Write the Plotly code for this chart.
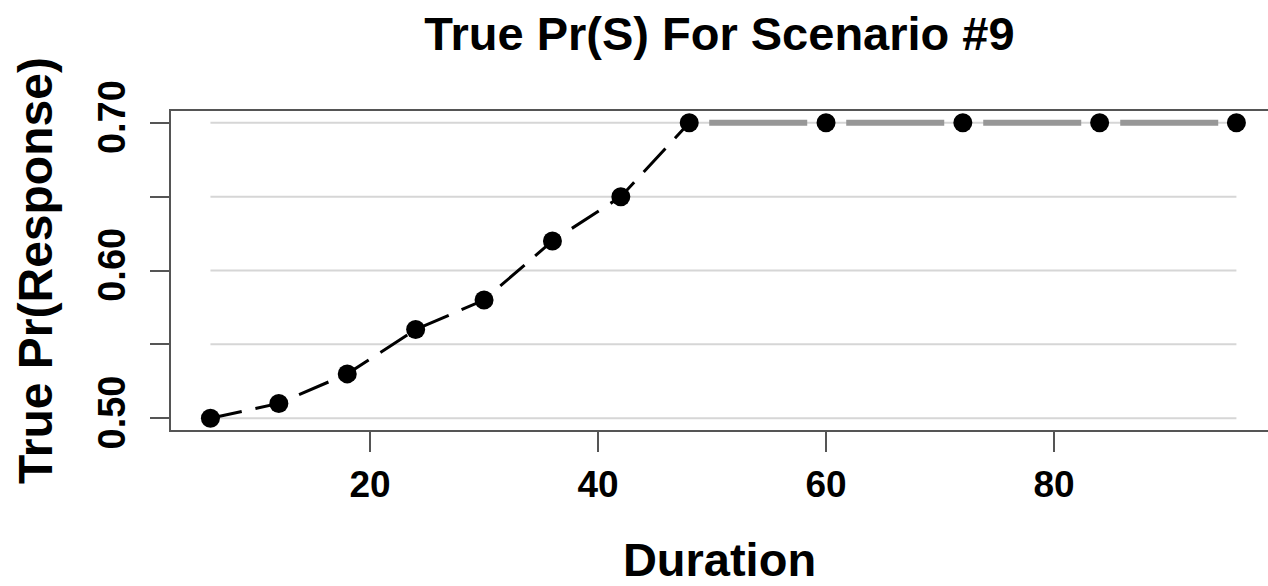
import plotly.graph_objects as go

duration = [6, 12, 18, 24, 30, 36, 42, 48, 60, 72, 84, 96]
pr_response = [0.50, 0.51, 0.53, 0.56, 0.58, 0.62, 0.65, 0.70, 0.70, 0.70, 0.70, 0.70]
plateau_start = 7  # index of 48
y_tickvals = [0.50, 0.55, 0.60, 0.65, 0.70]
y_ticktext = ["0.50", "", "0.60", "", "0.70"]
x_tickvals = [20, 40, 60, 80]

FONT = "Liberation Sans, Arial, Helvetica, sans-serif"

fig = go.Figure()

# rising part: black dashed
fig.add_trace(go.Scatter(
    x=duration[:plateau_start + 1], y=pr_response[:plateau_start + 1],
    mode="lines", line=dict(color="black", width=3, dash="32px,14px"),
    showlegend=False, hoverinfo="skip"))
# plateau: gray long-dashed
fig.add_trace(go.Scatter(
    x=duration[plateau_start:], y=pr_response[plateau_start:],
    mode="lines", line=dict(color="#979797", width=6, dash="0px,20px,98px,19px"),
    showlegend=False, hoverinfo="skip"))
# points
fig.add_trace(go.Scatter(
    x=duration, y=pr_response, mode="markers",
    marker=dict(color="black", size=19, line=dict(width=0)),
    showlegend=False, hoverinfo="skip"))

# horizontal reference lines drawn over the data range
for v in y_tickvals:
    fig.add_shape(type="line", xref="x", yref="y",
                  x0=min(duration), x1=max(duration), y0=v, y1=v,
                  line=dict(color="#d6d6d6", width=2), layer="below")

fig.update_layout(
    width=1268, height=586,
    margin=dict(l=171, r=0, t=111, b=156),
    paper_bgcolor="white", plot_bgcolor="white",
    font=dict(family=FONT, color="black"),
    title=dict(text="<b>True Pr(S) For Scenario #9</b>", x=0.5, xref="paper",
               xanchor="center", y=1 - 34 / 586, yref="container", yanchor="middle",
               font=dict(size=47, family=FONT, color="black")),
)

fig.update_xaxes(
    range=[2.54, 98.77], showgrid=False, zeroline=False, automargin=False,
    showline=True, mirror=True, linecolor="#555555", linewidth=2,
    ticks="outside", ticklen=20, tickwidth=2, tickcolor="#555555",
    tickvals=x_tickvals, ticktext=[f"<b>{v}</b>" for v in x_tickvals],
    tickfont=dict(size=37, family=FONT, color="black"),
    ticklabelstandoff=1,
    title=dict(text="<b>Duration</b>", font=dict(size=47, family=FONT, color="black"),
               standoff=39),
)
fig.update_yaxes(
    range=[0.492, 0.708], showgrid=False, zeroline=False, automargin=False,
    showline=True, mirror=False, linecolor="#555555", linewidth=2,
    ticks="outside", ticklen=19, tickwidth=2, tickcolor="#555555",
    tickvals=y_tickvals, ticktext=[f"<b>{t}</b>" if t else "" for t in y_ticktext],
    tickangle=-90,
    tickfont=dict(size=38, family=FONT, color="black"),
    ticklabelstandoff=10,
    title=dict(text="<b>True Pr(Response)</b>", font=dict(size=48, family=FONT, color="black"),
               standoff=23),
)

fig.write_html(
    "out.html",
    config={"displayModeBar": False},
    post_script="document.body.style.margin='0';document.body.style.overflow='hidden';",
)
